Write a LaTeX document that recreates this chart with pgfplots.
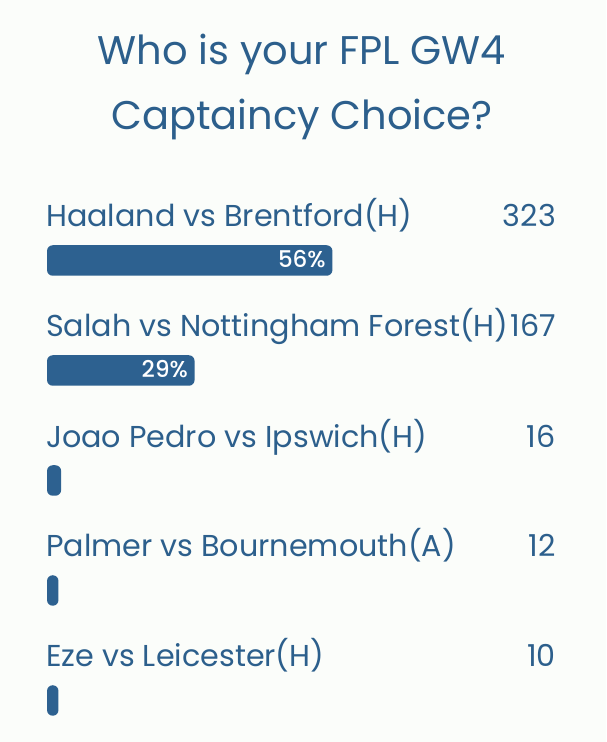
\documentclass[border=0pt]{standalone}
\usepackage{pgfplots}
\pgfplotsset{compat=1.18}
\usepackage{fontspec}
\setmainfont{Poppins}
\newfontfamily\pctfont{Poppins}[UprightFont=* Medium]
\definecolor{bg}{RGB}{251,253,250}
\definecolor{txt}{RGB}{44,95,140}
\definecolor{bar}{RGB}{45,97,144}
\begin{document}
\begin{tikzpicture}[x=1pt,y=1pt]
\fill[bg] (0,0) rectangle (606,742);
% title
\node[anchor=base, inner sep=0, text=txt, font=\fontsize{40}{48}\selectfont] at (302,677) {Who is your FPL GW4};
\node[anchor=base, inner sep=0, text=txt, font=\fontsize{40}{48}\selectfont] at (302,612) {Captaincy Choice?};
\begin{axis}[
  at={(47pt,3pt)}, anchor=south west,
  scale only axis, width=509pt, height=517pt,
  xmin=0, xmax=576, ymin=-0.35, ymax=4.35,
  hide axis, clip=false,
  xbar, bar width=30.5pt, bar shift=0pt,
]
\addplot[fill=bar, draw=none, rounded corners=5.75pt,
  x filter/.expression={max(x,13)}] coordinates {
  (323,4) (167,3) (16,2) (12,1) (10,0)
};
\node[anchor=base east, inner sep=0, text=white, font=\pctfont\fontsize{23}{27}\selectfont, xshift=-6.5pt, yshift=-7pt] at (axis cs:323,4) {56\%};
\node[anchor=base east, inner sep=0, text=white, font=\pctfont\fontsize{23}{27}\selectfont, xshift=-6.5pt, yshift=-7pt] at (axis cs:167,3) {29\%};
\end{axis}
\foreach \lab/\cnt/\yy in {{Haaland vs Brentford(H)}/323/515, {Salah vs Nottingham Forest(H)}/167/405, {Joao Pedro vs Ipswich(H)}/16/294.5, {Palmer vs Bournemouth(A)}/12/185, {Eze vs Leicester(H)}/10/75} {
  \node[anchor=base west, inner sep=0, text=txt, font=\fontsize{30.2}{36}\selectfont] at (46,\yy) {\lab};
  \node[anchor=base east, inner sep=0, text=txt, font=\fontsize{30.2}{36}\selectfont] at (556,\yy) {\cnt};
}
\end{tikzpicture}
\end{document}
